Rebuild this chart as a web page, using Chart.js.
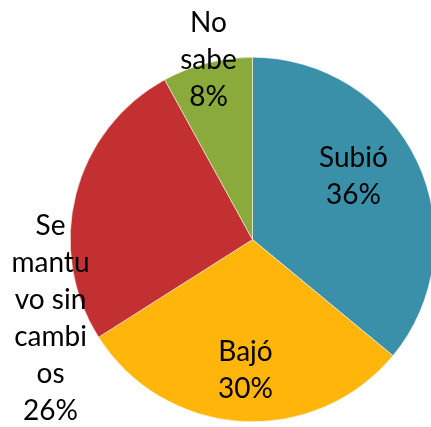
<!DOCTYPE html>
<html>
<head>
<meta charset="utf-8">
<script src="https://cdn.jsdelivr.net/npm/chart.js@4/dist/chart.umd.min.js"></script>
<style>
html,body{margin:0;padding:0;background:#fff;overflow:hidden;width:431px;height:427px;}
#wrap{position:absolute;left:0;top:0;width:440px;height:427px;}
</style>
</head>
<body>
<div id="wrap"><canvas id="c" width="440" height="427"></canvas></div>
<script>
const categories = ["Subió", "Bajó", "Se mantuvo sin cambios", "No sabe"];
const values = [36, 30, 26, 8];
const labelLines = [
  ["Subió", "36%"],
  ["Bajó", "30%"],
  ["Se", "mantu", "vo sin", "cambi", "os", "26%"],
  ["No", "sabe", "8%"]
];
const colors = ["#3A90A8", "#FFB50A", "#C23032", "#8AAB3C"];

// label block centre offsets from pie centre (layout)
const labelOffsets = [[101, -63], [-7, 131], [-202, 79], [-44, -180]];
const lineHeight = 37;

const labelPlugin = {
  id: 'sliceLabels',
  afterDatasetsDraw(chart) {
    const ctx = chart.ctx;
    const meta = chart.getDatasetMeta(0);
    const arc0 = meta.data[0];
    const cx = arc0.x, cy = arc0.y;
    ctx.save();
    ctx.fillStyle = '#000';
    ctx.font = '28px Lato, "Open Sans", sans-serif';
    ctx.textAlign = 'center';
    ctx.textBaseline = 'middle';
    labelLines.forEach((lines, i) => {
      const [ox, oy] = labelOffsets[i];
      const n = lines.length;
      lines.forEach((t, j) => {
        const y = cy + oy + (j - (n - 1) / 2) * lineHeight;
        ctx.fillText(t, cx + ox, y);
      });
    });
    ctx.restore();
  }
};

new Chart(document.getElementById('c'), {
  type: 'pie',
  data: {
    labels: categories,
    datasets: [{
      data: values,
      backgroundColor: colors,
      borderColor: '#ffffff',
      borderWidth: 0.5
    }]
  },
  options: {
    responsive: false,
    animation: false,
    layout: { padding: { left: 70, right: 5, top: 57, bottom: 5 } },
    plugins: { legend: { display: false }, tooltip: { enabled: false } }
  },
  plugins: [labelPlugin]
});
</script>
</body>
</html>
